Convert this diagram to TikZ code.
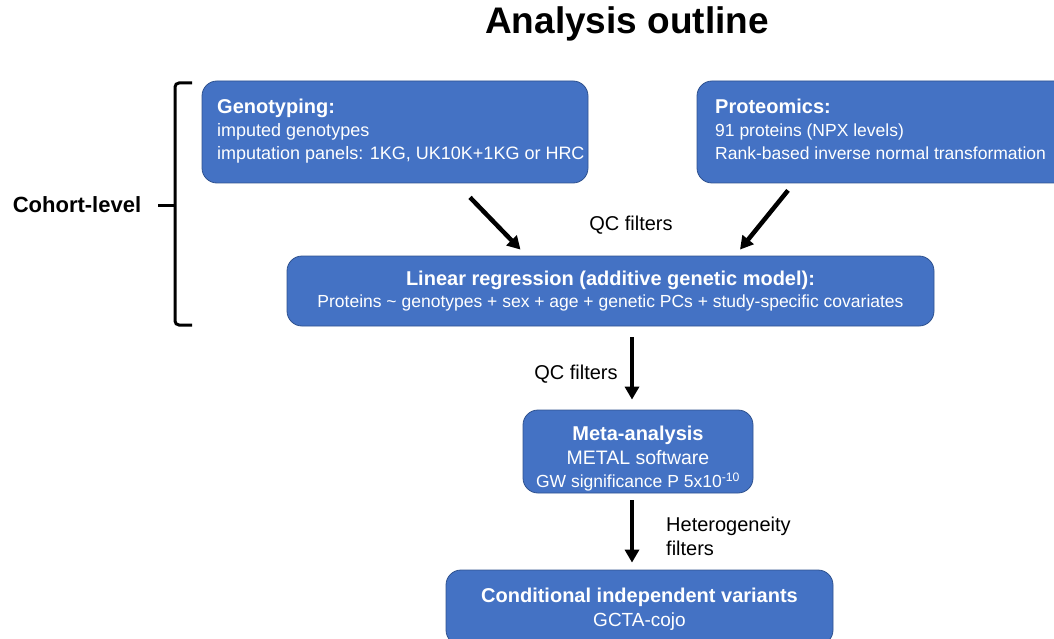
\documentclass[tikz,border=0pt]{standalone}
\usepackage{fontspec}
\setmainfont{Liberation Sans}
\usetikzlibrary{arrows.meta,calc}
\definecolor{boxblue}{HTML}{4472C4}
\definecolor{boxline}{HTML}{2F528F}
\tikzset{
  stepbox/.style={draw=boxline, line width=0.8pt, fill=boxblue, rounded corners=15pt,
    text=white, inner sep=0pt},
  boxtext/.style={text=white, inner sep=0pt},
  flow/.style={line width=4.5pt, -{Triangle[length=13pt,width=14pt]}},
  lbl/.style={font=\fontsize{20}{24}\selectfont, inner sep=0pt}
}
\newcommand{\hd}{\fontsize{20}{24}\selectfont\bfseries}
\newcommand{\bd}{\fontsize{18}{22}\selectfont}
\begin{document}
\begin{tikzpicture}[x=1pt,y=-1pt]
  \useasboundingbox (0,0) rectangle (1054,639);
  \clip (0,0) rectangle (1054,639);
  \node[font=\fontsize{37}{40}\selectfont\bfseries] (title) at (627,24) {Analysis outline};

  \node[stepbox, minimum width=386pt, minimum height=102pt] (geno) at (395,132) {};
  \node[boxtext, anchor=north west, align=left, font=\fontsize{18}{23}\selectfont] (genotxt) at (217,99)
    {{\hd Genotyping:}\\{\bd imputed genotypes}\\{\bd imputation panels: 1KG, UK10K+1KG or HRC}};

  \node[stepbox, minimum width=373pt, minimum height=102pt] (prot) at (883.5,132) {};
  \node[boxtext, anchor=north west, align=left, font=\fontsize{17.5}{23}\selectfont] (prottxt) at (715,99)
    {{\hd Proteomics:}\\91 proteins (NPX levels)\\Rank-based inverse normal transformation};

  \node[stepbox, minimum width=647pt, minimum height=70pt] (linreg) at (610.5,291) {};
  \node[boxtext, align=center, font=\fontsize{18}{22}\selectfont] (linregtxt) at (610.5,291.5)
    {{\hd Linear regression (additive genetic model):}\\
     {\fontsize{17.5}{21}\selectfont Proteins \textasciitilde{} genotypes + sex + age + genetic PCs + study-specific covariates}};

  \node[stepbox, minimum width=230pt, minimum height=83pt] (meta) at (638,451.5) {};
  \node[boxtext, align=center, font=\fontsize{18}{23.5}\selectfont] (metatxt) at (638,459)
    {{\hd Meta-analysis}\\{\fontsize{19.5}{23}\selectfont METAL software}\\
     {\fontsize{17.5}{21}\selectfont GW significance P 5x10\textsuperscript{-10}}};

  \node[stepbox, minimum width=387pt, minimum height=75pt] (cojo) at (639.5,607.5) {};
  \node[boxtext, align=center, font=\fontsize{18}{24}\selectfont] (cojotxt) at (639.5,609)
    {{\hd Conditional independent variants}\\{\fontsize{19}{23}\selectfont GCTA-cojo}};

  \draw[flow] ($(geno.south)+(75,14)$) -- ($(linreg.north)+(-90,-6)$);
  \draw[flow] ($(prot.south)+(-95.5,7)$) -- ($(linreg.north)+(129.5,-6)$);
  \draw[flow] ($(linreg.south)+(21.5,11)$) -- ($(meta.north)+(-6,-10)$);
  \draw[flow] ($(meta.south)+(-6,7)$) -- ($(cojo.north)+(-7.5,-7)$);

  \node[lbl] (qc1) at (631,225) {QC filters};
  \node[lbl] (qc2) at (576,374) {QC filters};
  \node[lbl, anchor=west, align=left] (het) at (666,536) {Heterogeneity\\filters};

  % cohort-level bracket
  \draw[line width=3pt, rounded corners=4pt] (192,83) -- (175,83) -- (175,325) -- (192,325);
  \draw[line width=3pt] (175,205) -- (158,205);
  \node[font=\fontsize{22}{26}\selectfont\bfseries, inner sep=0pt] (cohort) at (77,205) {Cohort-level};
\end{tikzpicture}
\end{document}
